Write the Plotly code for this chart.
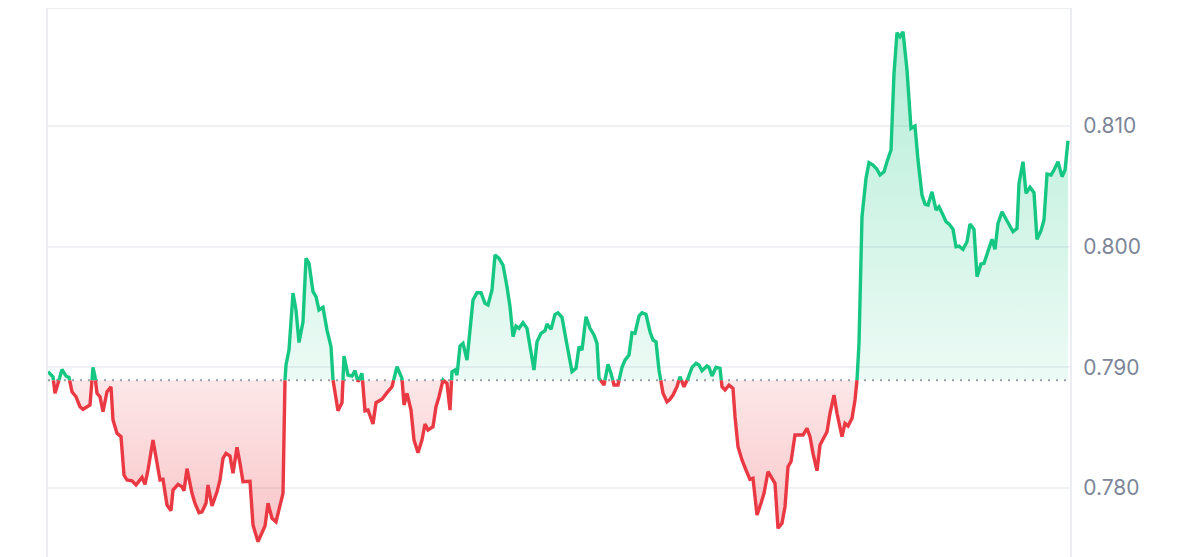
import plotly.graph_objects as go

# ---- data ----
# time step (10 min buckets from the left edge) and price
t = [0, 5, 7, 10, 14, 18, 21, 24, 28, 32, 35, 39, 42, 45, 47, 49, 52, 55, 59, 63,
     65, 69, 73, 76, 79, 84, 88, 94, 97, 100, 105, 109, 112, 115, 119, 123, 125, 130, 134, 136,
     139, 144, 147, 151, 154, 158, 160, 164, 169, 172, 175, 178, 182, 185, 189, 192, 195, 202, 205, 210,
     214, 217, 220, 224, 228, 231, 235, 237, 238, 241, 245, 248, 251, 255, 258, 261, 265, 268, 271, 275,
     279, 283, 285, 287, 290, 294, 296, 300, 304, 307, 310, 314, 317, 320, 325, 328, 334, 339, 344, 349,
     354, 356, 359, 363, 366, 370, 374, 377, 380, 385, 388, 391, 395, 399, 402, 404, 407, 409, 412, 415,
     419, 425, 429, 433, 437, 440, 444, 447, 451, 455, 459, 462, 465, 468, 471, 475, 479, 482, 486, 489,
     493, 497, 499, 503, 507, 510, 514, 519, 521, 524, 528, 531, 534, 538, 542, 546, 549, 551, 556, 560,
     563, 566, 570, 574, 577, 581, 584, 587, 591, 594, 598, 602, 605, 608, 611, 615, 619, 622, 625, 629,
     632, 636, 640, 644, 648, 651, 654, 659, 661, 664, 668, 672, 674, 677, 681, 685, 687, 690, 694, 698,
     702, 705, 709, 713, 716, 720, 723, 727, 730, 734, 737, 740, 743, 747, 752, 755, 759, 762, 765, 769,
     772, 775, 779, 782, 786, 789, 794, 797, 800, 804, 807, 809, 811, 814, 818, 821, 825, 829, 832, 836,
     839, 843, 846, 849, 852, 855, 859, 863, 867, 870, 874, 877, 880, 884, 888, 891, 895, 898, 901, 905,
     908, 911, 915, 919, 922, 926, 929, 933, 936, 940, 944, 947, 950, 954, 958, 961, 965, 969, 971, 975,
     978, 982, 986, 989, 993, 996, 999, 1003, 1006, 1010, 1014, 1017, 1020]

price = [0.78964, 0.78922, 0.78785, 0.78867, 0.78983, 0.78928, 0.78917, 0.78798, 0.78756, 0.78674,
         0.78652, 0.78674, 0.78688, 0.79000, 0.78922, 0.78785, 0.78756, 0.78632, 0.78798, 0.78839,
         0.78563, 0.78453, 0.78425, 0.78107, 0.78066, 0.78060, 0.78025, 0.78088, 0.78030, 0.78149,
         0.78398, 0.78204, 0.78066, 0.78072, 0.77859, 0.77812, 0.77983, 0.78030, 0.78011, 0.77977,
         0.78160, 0.77956, 0.77873, 0.77795, 0.77803, 0.77873, 0.78025, 0.77851, 0.77969, 0.78066,
         0.78246, 0.78287, 0.78265, 0.78122, 0.78337, 0.78204, 0.78052, 0.78055, 0.77693, 0.77555,
         0.77629, 0.77685, 0.77873, 0.77749, 0.77720, 0.77817, 0.77956, 0.78895, 0.79019, 0.79143,
         0.79616, 0.79475, 0.79206, 0.79378, 0.79903, 0.79862, 0.79627, 0.79585, 0.79475, 0.79497,
         0.79309, 0.79171, 0.78895, 0.78785, 0.78640, 0.78707, 0.79094, 0.78936, 0.78928, 0.78972,
         0.78881, 0.78950, 0.78640, 0.78646, 0.78530, 0.78707, 0.78735, 0.78790, 0.78839, 0.79005,
         0.78909, 0.78688, 0.78785, 0.78646, 0.78398, 0.78292, 0.78398, 0.78530, 0.78480, 0.78508,
         0.78674, 0.78756, 0.78895, 0.78867, 0.78646, 0.78964, 0.78978, 0.78936, 0.79177, 0.79199,
         0.79060, 0.79558, 0.79618, 0.79618, 0.79530, 0.79516, 0.79641, 0.79931, 0.79903, 0.79848,
         0.79668, 0.79502, 0.79254, 0.79342, 0.79323, 0.79370, 0.79323, 0.79157, 0.78978, 0.79212,
         0.79282, 0.79303, 0.79359, 0.79315, 0.79439, 0.79452, 0.79414, 0.79185, 0.79088, 0.78964,
         0.78992, 0.79171, 0.79143, 0.79419, 0.79323, 0.79268, 0.79199, 0.78909, 0.78853, 0.79025,
         0.78950, 0.78853, 0.78853, 0.79000, 0.79060, 0.79102, 0.79287, 0.79282, 0.79425, 0.79452,
         0.79439, 0.79295, 0.79226, 0.79212, 0.78978, 0.78785, 0.78715, 0.78735, 0.78770, 0.78839,
         0.78922, 0.78839, 0.78909, 0.79000, 0.79033, 0.79019, 0.78972, 0.79011, 0.79000, 0.78928,
         0.79000, 0.78992, 0.78839, 0.78812, 0.78853, 0.78826, 0.78591, 0.78342, 0.78232, 0.78149,
         0.78072, 0.78080, 0.77776, 0.77873, 0.77956, 0.78135, 0.78093, 0.78039, 0.77666, 0.77707,
         0.77845, 0.78176, 0.78218, 0.78439, 0.78439, 0.78439, 0.78494, 0.78425, 0.78287, 0.78143,
         0.78356, 0.78398, 0.78466, 0.78619, 0.78770, 0.78619, 0.78425, 0.78536, 0.78514, 0.78577,
         0.78729, 0.78895, 0.79199, 0.80248, 0.80566, 0.80696, 0.80676, 0.80641, 0.80594, 0.80621,
         0.80704, 0.80801, 0.81436, 0.81773, 0.81740, 0.81781, 0.81464, 0.80981, 0.81000, 0.80718,
         0.80428, 0.80353, 0.80345, 0.80455, 0.80304, 0.80331, 0.80262, 0.80207, 0.80188, 0.80144,
         0.79999, 0.80005, 0.79978, 0.80041, 0.80188, 0.80144, 0.79751, 0.79856, 0.79862, 0.79972,
         0.80061, 0.79978, 0.80193, 0.80289, 0.80226, 0.80179, 0.80124, 0.80152, 0.80525, 0.80704,
         0.80442, 0.80492, 0.80447, 0.80061, 0.80132, 0.80221, 0.80602, 0.80594, 0.80635, 0.80704,
         0.80580, 0.80635, 0.80878]

base = 0.78892          # reference (open) price, dotted line
yticks = [0.780, 0.790, 0.800, 0.810]

GREEN = '#16c784'
RED = '#ea3943'

# insert the points where the line crosses the base so colours switch exactly there
tx, ty = [t[0]], [price[0]]
for i in range(1, len(t)):
    a, b = price[i - 1] - base, price[i] - base
    if a * b < 0:
        f = a / (a - b)
        tx.append(t[i - 1] + f * (t[i] - t[i - 1]))
        ty.append(base)
    tx.append(t[i])
    ty.append(price[i])

up = [v if v >= base else None for v in ty]
down = [v if v <= base else None for v in ty]
up_fill = [max(v, base) for v in ty]
down_fill = [min(v, base) for v in ty]
flat = [base] * len(tx)

fig = go.Figure()

# green area
fig.add_trace(go.Scatter(x=tx, y=flat, mode='lines', line=dict(width=0), hoverinfo='skip'))
fig.add_trace(go.Scatter(
    x=tx, y=up_fill, mode='lines', line=dict(width=0), fill='tonexty',
    fillgradient=dict(type='vertical', start=base, stop=max(price),
                      colorscale=[[0, 'rgba(22,199,132,0.08)'], [1, 'rgba(22,199,132,0.32)']]),
    hoverinfo='skip'))

# red area
fig.add_trace(go.Scatter(x=tx, y=flat, mode='lines', line=dict(width=0), hoverinfo='skip'))
fig.add_trace(go.Scatter(
    x=tx, y=down_fill, mode='lines', line=dict(width=0), fill='tonexty',
    fillgradient=dict(type='vertical', start=min(price), stop=base,
                      colorscale=[[0, 'rgba(234,57,67,0.30)'], [1, 'rgba(234,57,67,0.12)']]),
    hoverinfo='skip'))

# dotted base line
fig.add_trace(go.Scatter(x=[t[0], t[-1]], y=[base, base], mode='lines',
                         line=dict(color='#9a9fa8', width=2, dash='2px,6px'), hoverinfo='skip'))

# price line
fig.add_trace(go.Scatter(x=tx, y=up, mode='lines', connectgaps=False,
                         line=dict(color=GREEN, width=3.4)))
fig.add_trace(go.Scatter(x=tx, y=down, mode='lines', connectgaps=False,
                         line=dict(color=RED, width=3.4)))

frame = '#ebedf0'
# page body has an 8px margin, so the figure is a bit smaller than the window
fig.update_layout(
    width=1192, height=549,
    margin=dict(l=39, r=129, t=0, b=0),
    paper_bgcolor='white',
    plot_bgcolor='white',
    showlegend=False,
    font=dict(family='Inter, Roboto, sans-serif'),
    xaxis=dict(visible=False, range=[-1, 1023]),
    yaxis=dict(
        side='right',
        range=[0.77428, 0.81978],
        tickvals=yticks,
        tickformat='.3f',
        tickfont=dict(size=21, color='#7d8699'),
        ticks='outside', ticklen=7, tickcolor='rgba(0,0,0,0)',
        showgrid=True, gridcolor='#eff1f4', gridwidth=1.5,
        zeroline=False, showline=False,
    ),
    shapes=[
        dict(type='line', xref='paper', yref='paper', x0=0, x1=0, y0=0, y1=1,
             line=dict(color=frame, width=2)),
        dict(type='line', xref='paper', yref='paper', x0=1, x1=1, y0=0, y1=1,
             line=dict(color=frame, width=2)),
        dict(type='line', xref='paper', yref='paper', x0=0, x1=1, y0=1, y1=1,
             line=dict(color=frame, width=2)),
    ],
)

fig.write_html("out.html")
